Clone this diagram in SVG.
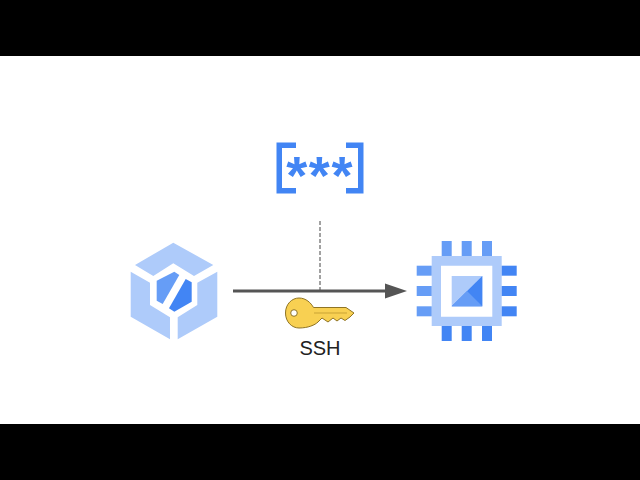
<svg xmlns="http://www.w3.org/2000/svg" width="640" height="480" viewBox="0 0 640 480">
<style>
.lt{fill:#aecbfa}.md{fill:#669df6}.dk{fill:#4285f4}
.lbl{font-family:"Liberation Sans",Arial,sans-serif;font-size:20px;fill:#222;text-anchor:middle}
.stars{font-family:"Liberation Sans",Arial,sans-serif;font-size:54px;font-weight:bold;fill:#4285f4;text-anchor:middle}
</style>
<defs>
<marker id="arrow" markerUnits="userSpaceOnUse" markerWidth="22" markerHeight="18" refX="22" refY="9" orient="auto"><path d="M0 1.500L22 9L0 16.500Z" fill="#555"/></marker>
</defs>
<rect width="640" height="480" fill="#fff"/>
<rect width="640" height="56" fill="#000"/>
<rect y="424" width="640" height="56" fill="#000"/>
<g id="connectors">
<line x1="320" y1="221" x2="320" y2="291" stroke="#444" stroke-width="1" stroke-dasharray="4 2"/>
<line x1="233" y1="291" x2="400" y2="291" stroke="#555" stroke-width="3"/>
<line x1="385" y1="291" x2="407" y2="291" stroke="none" marker-end="url(#arrow)"/>
</g>
<g id="secret">
<path class="dk" d="M276.500 142.500H296V148H282V188H296V193.500H276.500Z"/>
<path class="dk" d="M363.500 142.500H346V148H358V188H346V193.500H363.500Z"/>
<text class="stars"><tspan x="296.700" y="194">*</tspan><tspan x="319.300" y="194">*</tspan><tspan x="342" y="194">*</tspan></text>
</g>
<g id="workload">
<path class="lt" d="M173.300 242.700L213.300 265L194 276L173.300 263.300L153.300 276L135 265Z"/>
<path class="lt" d="M130.700 271.700L150 282.700V305L170 317.300V339.300L130.700 316.700Z"/>
<path class="lt" d="M217.300 271.700V316.700L177.700 339.300V317.300L197.300 305V282.700Z"/>
<path class="md" d="M174.300 271.700L179.300 275L162.700 304L156.700 300.700V280.700Z"/>
<path class="dk" d="M185.700 279L191.700 282.300V301.700L174.300 311.700L169 308.300Z"/>
</g>
<g id="vm">
<path class="lt" fill-rule="evenodd" d="M431.700 256H501.700V326H431.700ZM441 265.700V316.700H492.300V265.700Z"/>
<rect class="md" x="441.700" y="241" width="10" height="15"/><rect class="md" x="461.700" y="241" width="10" height="15"/><rect class="md" x="482" y="241" width="10" height="15"/>
<rect class="dk" x="441.700" y="326" width="10" height="15"/><rect class="dk" x="461.700" y="326" width="10" height="15"/><rect class="dk" x="482" y="326" width="10" height="15"/>
<rect class="md" x="416.700" y="265.700" width="15" height="10"/><rect class="md" x="416.700" y="286" width="15" height="10"/><rect class="md" x="416.700" y="306.300" width="15" height="10"/>
<rect class="dk" x="501.700" y="265.700" width="15" height="10"/><rect class="dk" x="501.700" y="286" width="15" height="10"/><rect class="dk" x="501.700" y="306.300" width="15" height="10"/>
<rect class="lt" x="451.700" y="276" width="30.600" height="30.300"/>
<path class="dk" d="M482.300 276V306.300H451.700Z"/>
<path class="md" d="M451.700 306.300L467 291L482.300 306.300Z"/>
</g>
<g id="key">
<path fill="#f8d052" stroke="#8f7424" stroke-width="1" fill-rule="evenodd" d="M285.500 313C285.500 304 292 298 299 298C306 298 311 303 313.500 307.500H346L354 313L350 317L345 320.500L341 318L337 321L333 318L328 322L322 318L318 322C315 325 308 328 299 328C292 328 285.500 322 285.500 313ZM297.300 313A3.300 3.300 0 1 0 290.700 313A3.300 3.300 0 1 0 297.300 313Z"/>
<path d="M314 313H347" stroke="#c9a335" stroke-width="1" fill="none"/>
</g>
<text class="lbl" x="320" y="355">SSH</text>
</svg>
